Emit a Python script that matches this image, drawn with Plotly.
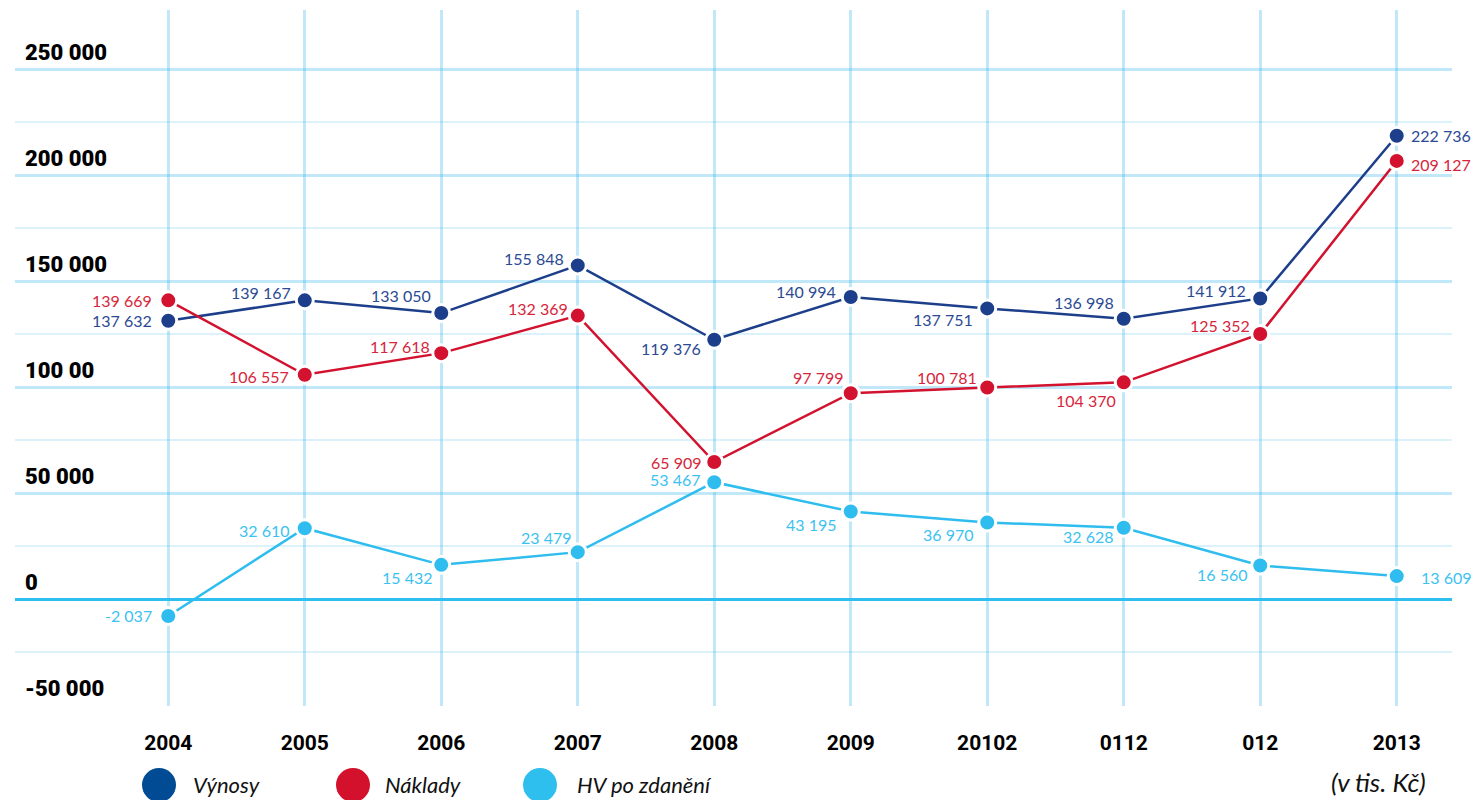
import plotly.graph_objects as go

# ---------------- data ----------------
years = ["2004", "2005", "2006", "2007", "2008", "2009", "20102", "0112", "012", "2013"]

vynosy = [131400, 141000, 135000, 157500, 122400, 142600, 137200, 132300, 141900, 218700]
vynosy_labels = ["137 632", "139 167", "133 050", "155 848", "119 376",
                 "140 994", "137 751", "136 998", "141 912", "222 736"]

naklady = [141000, 105900, 116100, 133800, 64700, 97200, 99900, 102300, 125100, 206800]
naklady_labels = ["139 669", "106 557", "117 618", "132 369", "65 909",
                  "97 799", "100 781", "104 370", "125 352", "209 127"]

hv = [-7900, 33500, 16200, 22200, 55200, 41400, 36200, 33700, 15900, 10900]
hv_labels = ["-2 037", "32 610", "15 432", "23 479", "53 467",
             "43 195", "36 970", "32 628", "16 560", "13 609"]

y_major = [-50000, 0, 50000, 100000, 150000, 200000, 250000]
y_major_text = ["-50 000", "0", "50 000", "100 00", "150 000", "200 000", "250 000"]
y_minor = [-25000, 25000, 75000, 125000, 175000, 225000]

series_names = ["Výnosy", "Náklady", "HV po zdanění"]
unit_text = "(v tis. Kč)"

# ---------------- styles ----------------
C_VYN = "#1d3e8a"
C_NAK = "#d2122e"
C_HV = "#2ebdee"
T_VYN = "#2b4a93"
T_NAK = "#d6263c"
T_HV = "#3cc2f0"
LEG_COLORS = ["#004b93", "#d4112c", "#2fbfef"]

# label offsets in pixels (dx to label edge, dy to label centre; +dy = down)
off_vyn = [(-15, 0), (-13, -8), (-9, -18), (-13, -7), (-12, 9),
           (-14, -5), (-13, 11), (-9, -16), (-13, -8), (13, 0)]
off_nak = [(-15, 0), (-15, 2), (-10, -7), (-9, -7), (-11, 0),
           (-6, -16), (-9, -10), (-7, 18), (-9, -9), (13, 4)]
off_hv = [(-15, 0), (-14, 2), (-7, 13), (-5, -15), (-12, -3),
          (-13, 13), (-12, 12), (-9, 9), (-11, 9), (23, 1)]

LABEL_FONT = "Lato, 'Open Sans', sans-serif"

fig = go.Figure()
annotations = []


def add_series(y, labels, color, tcolor, offsets, name):
    fig.add_trace(go.Scatter(
        x=years, y=y, name=name, mode="lines+markers",
        line=dict(color=color, width=2.5),
        marker=dict(size=17, color=color, line=dict(color="white", width=3)),
        showlegend=False, cliponaxis=False,
    ))
    # category index positions on the category x axis
    for i, (yv, lab, (dx, dy)) in enumerate(zip(y, labels, offsets)):
        annotations.append(dict(
            x=i, y=yv, xref="x", yref="y", text=lab, showarrow=False,
            xanchor="right" if dx < 0 else "left", yanchor="middle",
            xshift=dx, yshift=-dy, borderpad=0,
            font=dict(family=LABEL_FONT, size=16, color=tcolor),
        ))


add_series(vynosy, vynosy_labels, C_VYN, T_VYN, off_vyn, series_names[0])
add_series(naklady, naklady_labels, C_NAK, T_NAK, off_nak, series_names[1])
add_series(hv, hv_labels, C_HV, T_HV, off_hv, series_names[2])

GRID_MAJOR = "rgba(60,185,235,0.32)"
GRID_MINOR = "rgba(60,185,235,0.18)"

fig.update_xaxes(
    type="category", categoryorder="array", categoryarray=years,
    range=[-1.123, 9.405],
    showgrid=True, gridcolor=GRID_MAJOR, gridwidth=3,
    showline=False, zeroline=False, ticks="",
    tickfont=dict(family="Roboto, sans-serif", size=21, color="#000000", weight="bold"),
    ticklabelstandoff=22,
)
fig.update_yaxes(
    range=[-50400, 278000],
    tickvals=y_major, showticklabels=False,
    showgrid=True, gridcolor=GRID_MAJOR, gridwidth=3,
    zeroline=True, zerolinecolor="#2ebfef", zerolinewidth=3,
    minor=dict(tickvals=y_minor, showgrid=True, gridcolor=GRID_MINOR, gridwidth=2),
    showline=False, ticks="",
)

for v, t in zip(y_major, y_major_text):
    annotations.append(dict(
        x=8 / 1437, xref="paper", xanchor="left",
        y=v, yref="y", yanchor="bottom", yshift=2,
        text=t, showarrow=False,
        font=dict(family="Roboto, sans-serif", size=22, color="#000000", weight=900),
    ))

# legend (drawn manually for the large round swatches)
leg_cx = [159, 353, 540]
leg_tx = [191, 383, 575]
LEG_Y = (706 - 785) / 696
shapes = []
for cx, tx, col, name in zip(leg_cx, leg_tx, LEG_COLORS, series_names):
    px = (cx - 15) / 1437
    shapes.append(dict(
        type="circle", xref="paper", yref="paper",
        xsizemode="pixel", ysizemode="pixel",
        xanchor=px, yanchor=LEG_Y,
        x0=-17, x1=17, y0=-17, y1=17,
        fillcolor=col, line=dict(width=0),
    ))
    annotations.append(dict(
        x=(tx - 15) / 1437, xref="paper", xanchor="left",
        y=LEG_Y, yref="paper", yanchor="middle",
        text=name, showarrow=False,
        font=dict(family=LABEL_FONT, size=22, color="#111111", style="italic"),
    ))

annotations.append(dict(
    x=(1428 - 15) / 1437, xref="paper", xanchor="right",
    y=(706 - 782) / 696, yref="paper", yanchor="middle",
    text=unit_text, showarrow=False,
    font=dict(family=LABEL_FONT, size=26, color="#111111", style="italic"),
))

fig.update_layout(
    width=1472, height=800,
    margin=dict(l=15, r=20, t=10, b=94),
    paper_bgcolor="white", plot_bgcolor="white",
    annotations=annotations, shapes=shapes,
    showlegend=False,
)

fig.write_html(
    "out.html",
    config={"displayModeBar": False},
    post_script="document.body.style.margin='0px';document.body.style.overflow='hidden';",
)
